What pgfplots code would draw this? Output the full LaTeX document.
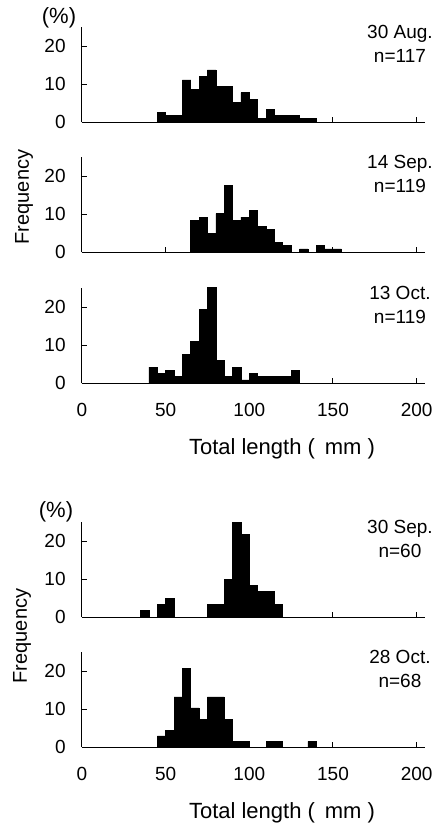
\documentclass[border=0pt]{standalone}
\usepackage{fontspec}
\setmainfont{Liberation Sans}
\usepackage{pgfplots}
\pgfplotsset{compat=1.18}

\pgfplotsset{
  hist/.style={
    scale only axis,
    width=171.5pt, height=47.5pt,
    anchor=south west,
    xmin=0, xmax=205, ymin=0, ymax=25,
    axis lines*=left,
    axis line style={line width=0.5pt},
    clip=false,
    xtick={0,50,100,150,200},
    ytick={0,10,20},
    tick align=inside,
    major tick length=2.5pt,
    tick style={line width=0.5pt, black},
    /pgf/number format/assume math mode=true,
    tick label style={font=\fontsize{9.5}{12}\selectfont},
    yticklabel style={inner sep=0pt, xshift=-8pt},
    xticklabel style={inner sep=0pt, yshift=-10pt},
  },
  nolab/.style={xticklabels={}},
  bars/.style={ybar interval, fill=black, draw=black, line width=0.3pt},
}

\newcommand{\datelab}[1]{\node[align=center, font=\fontsize{9.5}{12}\selectfont] at (rel axis cs:0.927,0.82) {#1};}
\newcommand{\xlab}{\node[font=\fontsize{11}{13}\selectfont] at (rel axis cs:0.583,-0.69) {Total length (\,\ mm\ )};}

\begin{document}
\begin{tikzpicture}
\path[use as bounding box] (0,0) rectangle (222pt,-413pt);

% 30 Aug.
\begin{axis}[hist, nolab, at={(41pt,-61pt)}]
\addplot[bars] coordinates {
(45,2.6)(50,1.7)(55,1.7)(60,11.1)(65,8.5)(70,12.0)(75,13.7)(80,9.4)(85,9.4)
(90,5.1)(95,7.7)(100,6.0)(105,0.85)(110,3.4)(115,1.7)(120,1.7)(125,1.7)
(130,0.85)(135,0.85)(140,0)
};
\datelab{30 Aug.\\n=117}
\end{axis}

% 14 Sep.
\begin{axis}[hist, nolab, at={(41pt,-126pt)}]
\addplot[bars] coordinates {
(65,8.4)(70,9.2)(75,5.0)(80,10.1)(85,17.6)(90,8.4)(95,9.2)(100,10.9)
(105,6.7)(110,5.9)(115,2.5)(120,1.7)(125,0)(130,0.84)(135,0)(140,1.7)
(145,0.84)(150,0.84)(155,0)
};
\datelab{14 Sep.\\n=119}
\end{axis}

% 13 Oct.
\begin{axis}[hist, at={(41pt,-191.5pt)}]
\addplot[bars] coordinates {
(40,4.2)(45,2.5)(50,3.4)(55,1.7)(60,7.6)(65,10.9)(70,19.3)(75,25.2)
(80,5.9)(85,1.7)(90,4.2)(95,0.84)(100,2.5)(105,1.7)(110,1.7)(115,1.7)
(120,1.7)(125,3.4)(130,0)
};
\datelab{13 Oct.\\n=119}
\xlab
\end{axis}

% 30 Sep.
\begin{axis}[hist, nolab, at={(41pt,-308.5pt)}]
\addplot[bars] coordinates {
(35,1.67)(40,0)(45,3.33)(50,5.0)(55,0)(60,0)(65,0)(70,0)(75,3.33)
(80,3.33)(85,10.0)(90,25.0)(95,21.7)(100,8.33)(105,6.67)(110,6.67)
(115,3.33)(120,0)
};
\datelab{30 Sep.\\n=60}
\end{axis}

% 28 Oct.
\begin{axis}[hist, at={(41pt,-373.5pt)}]
\addplot[bars] coordinates {
(45,2.94)(50,4.41)(55,13.2)(60,20.6)(65,10.3)(70,7.35)(75,13.2)(80,13.2)
(85,7.35)(90,1.47)(95,1.47)(100,0)(105,0)(110,1.47)(115,1.47)(120,0)
(125,0)(130,0)(135,1.47)(140,0)
};
\datelab{28 Oct.\\n=68}
\xlab
\end{axis}

\node[font=\fontsize{11}{13}\selectfont] at (29.5pt,-9pt) {(\%)};
\node[font=\fontsize{11}{13}\selectfont] at (28pt,-256pt) {(\%)};
\node[font=\fontsize{10}{12}\selectfont, rotate=90] at (12pt,-98.5pt) {Frequency};
\node[font=\fontsize{10}{12}\selectfont, rotate=90] at (11pt,-318pt) {Frequency};
\end{tikzpicture}
\end{document}
